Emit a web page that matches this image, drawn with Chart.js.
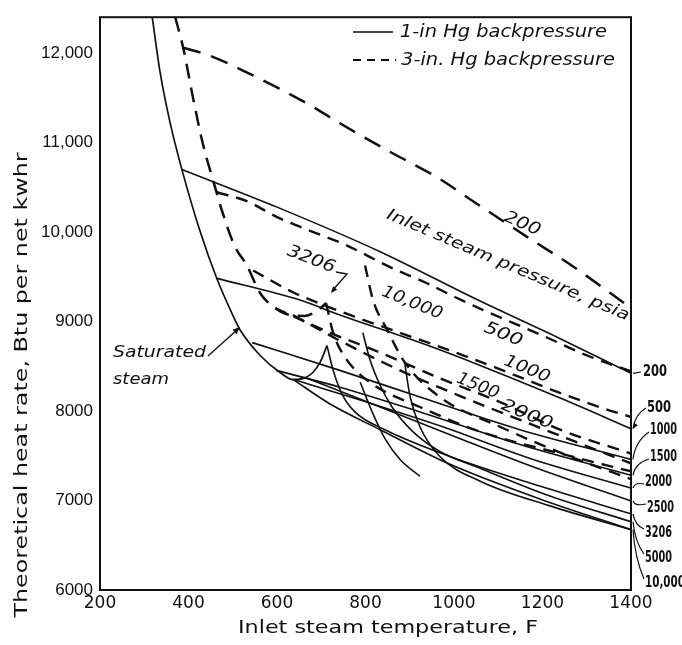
<!DOCTYPE html>
<html><head><meta charset="utf-8">
<script src="https://cdn.jsdelivr.net/npm/chart.js@4.4.1/dist/chart.umd.min.js"></script>
<style>html,body{margin:0;padding:0;background:#fff;}canvas{display:block;}</style>
</head><body>
<canvas id="c" width="682" height="645"></canvas>
<script>
// ---- tick values / labels ----
const xTicks = [200, 400, 600, 800, 1000, 1200, 1400];
const xTickLabels = ['200', '400', '600', '800', '1000', '1200', '1400'];
const yTicks = [6000, 7000, 8000, 9000, 10000, 11000, 12000];
const yTickLabels = ['6000', '7000', '8000', '9000', '10,000', '11,000', '12,000'];

// ---- saturated steam curves ----
const sat1T = [318, 336, 358, 385, 426, 464, 501, 516, 562, 607, 636, 663, 681, 697, 713];
const sat1H = [12400, 11780, 11230, 10700, 10010, 9480, 9060, 8910, 8620, 8430, 8350, 8370, 8430, 8540, 8730];
const sat3T = [370, 388, 410, 433, 455, 478, 505, 532, 562, 596, 629, 663, 693, 711];
const sat3H = [12400, 12058, 11505, 10974, 10587, 10201, 9836, 9626, 9316, 9150, 9073, 9062, 9128, 9206];

// ---- 1-in Hg backpressure (solid), inlet pressure psia ----
const s200T = [385, 600, 833, 1059, 1240, 1400];
const s200H = [10698, 10278, 9780, 9228, 8808, 8421];
const s500T = [464, 652, 742, 923, 1059, 1240, 1400];
const s500H = [9482, 9239, 9073, 8764, 8509, 8144, 7802];
const s1000T = [544, 742, 923, 1149, 1400];
const s1000H = [8764, 8454, 8156, 7791, 7459];
const s1500T = [598, 742, 923, 1149, 1400];
const s1500H = [8454, 8266, 7990, 7625, 7282];
const s2000T = [636, 788, 968, 1172, 1400];
const s2000H = [8354, 8122, 7835, 7470, 7139];
const s2500T = [668, 833, 1014, 1194, 1400];
const s2500H = [8366, 8045, 7691, 7349, 6995];
const s3206T = [713, 727, 747, 776, 844, 991, 1194, 1400];
const s3206H = [8730, 8454, 8189, 7990, 7791, 7492, 7161, 6851];
const s5000T = [794, 810, 833, 860, 907, 968, 1059, 1217, 1400];
const s5000H = [8874, 8576, 8288, 8045, 7769, 7548, 7360, 7050, 6763];
const s10000T = [889, 901, 923, 968, 1059, 1217, 1400];
const s10000H = [8520, 8156, 7824, 7492, 7216, 6940, 6674];
const envT = [636, 720, 833, 991, 1194, 1400];
const envH = [8354, 8078, 7791, 7404, 7017, 6674];
const crossT = [788, 815, 844, 878, 923];
const crossH = [8321, 7990, 7691, 7459, 7271];

// ---- 3-in Hg backpressure (dashed) ----
const d200T = [388, 449, 523, 600, 675, 749, 855, 962, 1043, 1165, 1269, 1400];
const d200H = [12058, 11969, 11803, 11615, 11416, 11195, 10897, 10610, 10344, 9946, 9615, 9150];
const d500T = [464, 532, 600, 675, 749, 862, 939, 998, 1066, 1133, 1201, 1301, 1400];
const d500H = [10444, 10344, 10167, 10013, 9869, 9593, 9427, 9283, 9128, 8985, 8841, 8620, 8443];
const d1000T = [546, 636, 765, 878, 991, 1093, 1235, 1341, 1400];
const d1000H = [9570, 9327, 9073, 8874, 8675, 8487, 8211, 8023, 7934];
const d1500T = [596, 720, 833, 968, 1104, 1240, 1400];
const d1500H = [9150, 8874, 8653, 8366, 8100, 7791, 7525];
const d2000T = [636, 742, 878, 1014, 1149, 1285, 1400];
const d2000H = [9073, 8786, 8454, 8167, 7901, 7636, 7415];
const d3206T = [711, 727, 754, 810, 923, 1059, 1240, 1400];
const d3206H = [9206, 8874, 8598, 8321, 8045, 7769, 7525, 7326];
const d10000T = [799, 817, 849, 889, 968, 1104, 1262, 1400];
const d10000H = [9626, 9239, 8907, 8542, 8156, 7824, 7492, 7238];

// ---- text ----
const legendSolid = '1-in Hg backpressure';
const legendDashed = '3-in. Hg backpressure';
const xTitle = 'Inlet steam temperature, F';
const yTitle = 'Theoretical heat rate, Btu per net kwhr';
const rightLabels = ['200', '500', '1000', '1500', '2000', '2500', '3206', '5000', '10,000'];
const rightEnds = [s200H, s500H, s1000H, s1500H, s2000H, s2500H, s3206H, s5000H, s10000H];

function pts(T, H) { return T.map((t, i) => ({ x: t, y: H[i] })); }
function solid(T, H, w) {
  return { data: pts(T, H), borderColor: '#111', borderWidth: w || 1.6, pointRadius: 0,
    showLine: true, fill: false, cubicInterpolationMode: 'monotone' };
}
function dashed(T, H, dash, w) {
  return { data: pts(T, H), borderColor: '#111', borderWidth: w || 2.4, borderDash: dash || [12, 8],
    pointRadius: 0, showLine: true, fill: false, cubicInterpolationMode: 'monotone' };
}

const datasets = [
  solid(sat1T, sat1H, 1.7),
  dashed(sat3T, sat3H, [15, 9], 2.5),
  solid(s200T, s200H), solid(s500T, s500H), solid(s1000T, s1000H), solid(s1500T, s1500H),
  solid(s2000T, s2000H), solid(s2500T, s2500H), solid(s3206T, s3206H), solid(s5000T, s5000H),
  solid(s10000T, s10000H), solid(envT, envH), solid(crossT, crossH),
  dashed(d200T, d200H, [18, 11], 2.5),
  dashed(d500T, d500H), dashed(d1000T, d1000H), dashed(d1500T, d1500H),
  dashed(d2000T, d2000H), dashed(d3206T, d3206H), dashed(d10000T, d10000H)
];

function fitText(ctx, str, x, y, targetW, align) {
  const w = ctx.measureText(str).width;
  const s = targetW / w;
  ctx.save();
  ctx.translate(x, y);
  ctx.scale(s, 1);
  ctx.textAlign = align || 'center';
  ctx.fillText(str, 0, 0);
  ctx.restore();
}
function arrowHead(ctx, x0, y0, x1, y1, size) {
  const a = Math.atan2(y1 - y0, x1 - x0);
  ctx.beginPath();
  ctx.moveTo(x1, y1);
  ctx.lineTo(x1 - size * Math.cos(a - 0.4), y1 - size * Math.sin(a - 0.4));
  ctx.lineTo(x1 - size * Math.cos(a + 0.4), y1 - size * Math.sin(a + 0.4));
  ctx.closePath();
  ctx.fill();
}

const decor = {
  id: 'decor',
  afterDraw(chart) {
    const { ctx, chartArea: a, scales: { x, y } } = chart;
    const X = v => x.getPixelForValue(v), Y = v => y.getPixelForValue(v);
    ctx.save();
    ctx.fillStyle = '#111';
    ctx.strokeStyle = '#111';
    // frame
    ctx.lineWidth = 2;
    ctx.strokeRect(a.left, a.top, a.right - a.left, a.bottom - a.top);

    // legend
    ctx.lineWidth = 1.6;
    ctx.beginPath(); ctx.moveTo(353, 32); ctx.lineTo(393, 32); ctx.stroke();
    ctx.lineWidth = 2.2;
    ctx.setLineDash([8, 6]);
    ctx.beginPath(); ctx.moveTo(353, 60); ctx.lineTo(396, 60); ctx.stroke();
    ctx.setLineDash([]);
    ctx.font = 'italic 17px "DejaVu Sans"';
    ctx.textBaseline = 'middle';
    fitText(ctx, legendSolid, 400, 33, 207, 'left');
    fitText(ctx, legendDashed, 401, 61, 214, 'left');

    // axis titles
    ctx.font = '18px "DejaVu Sans"';
    fitText(ctx, xTitle, 388, 628, 300, 'center');
    ctx.save();
    ctx.translate(22, 385);
    ctx.rotate(-Math.PI / 2);
    ctx.font = '18px "DejaVu Sans"';
    fitText(ctx, yTitle, 0, 0, 465, 'center');
    ctx.restore();

    // rotated in-plot labels
    const rot = (txt, T, H, deg, w, size) => {
      ctx.save();
      ctx.translate(X(T), Y(H));
      ctx.rotate(deg * Math.PI / 180);
      ctx.font = 'italic ' + size + 'px "DejaVu Sans"';
      fitText(ctx, txt, 0, 0, w, 'center');
      ctx.restore();
    };
    rot('Inlet steam pressure, psia', 1122, 9626, 23, 262, 16);
    rot('200', 1154, 10090, 24, 38, 17);
    rot('3206', 677, 9692, 21, 50, 17);
    rot('10,000', 905, 9206, 22, 64, 17);
    rot('500', 1111, 8852, 22, 40, 17);
    rot('1000', 1165, 8465, 22, 48, 17);
    rot('1500', 1054, 8277, 22, 44, 17);
    rot('2000', 1165, 7957, 22, 54, 17);

    // 3206 leader
    ctx.lineWidth = 1.4;
    ctx.beginPath(); ctx.moveTo(336, 272); ctx.lineTo(347, 274); ctx.lineTo(332, 291); ctx.stroke();
    arrowHead(ctx, 347, 274, 331, 293, 7);

    // saturated steam
    ctx.font = 'italic 16px "DejaVu Sans"';
    fitText(ctx, 'Saturated', 113, 353, 93, 'left');
    fitText(ctx, 'steam', 113, 380, 56, 'left');
    ctx.beginPath(); ctx.moveTo(208, 356); ctx.lineTo(238, 329); ctx.stroke();
    arrowHead(ctx, 208, 356, 240, 327, 8);

    // right-hand labels with leaders
    const labY = [372, 408, 430, 457, 482, 508, 533, 558, 583];
    const labX = [643, 647, 650, 650, 645, 647, 645, 645, 645];
    ctx.font = 'bold 16px "DejaVu Sans"';
    ctx.lineWidth = 1.2;
    rightLabels.forEach((t, i) => {
      const ex = a.right + 2, ey = Y(rightEnds[i][rightEnds[i].length - 1]);
      const w = t.length === 6 ? 40 : (t.length === 4 ? 27 : 24);
      fitText(ctx, t, labX[i], labY[i], w, 'left');
      ctx.beginPath();
      if (i === 0) { ctx.moveTo(ex, ey); ctx.lineTo(labX[i] - 2, labY[i]); }
      else {
        const sx = labX[i] - 1, sy = labY[i] + (i === 1 ? 0 : (ey < labY[i] ? -4 : 2));
        ctx.moveTo(sx, sy);
        ctx.quadraticCurveTo(ex + 2, (sy + ey) / 2 + (ey < sy ? 4 : -4), ex, ey);
      }
      ctx.stroke();
      if (i === 1) arrowHead(ctx, labX[i] - 1, labY[i], ex, ey, 6);
    });
    ctx.restore();
  }
};

new Chart(document.getElementById('c'), {
  type: 'scatter',
  data: { datasets },
  options: {
    responsive: false,
    animation: false,
    events: [],
    layout: { padding: { top: 11, right: 51, left: 0, bottom: 0 } },
    plugins: { legend: { display: false }, tooltip: { enabled: false } },
    scales: {
      x: {
        type: 'linear', min: 200, max: 1400,
        grid: { display: false, drawTicks: false }, border: { display: false },
        afterBuildTicks: s => { s.ticks = xTicks.map(v => ({ value: v })); },
        afterFit: s => { s.height = 55; },
        ticks: { color: '#111', padding: 3, font: { family: 'DejaVu Sans', size: 17 }, maxRotation: 0, autoSkip: false,
          callback: v => xTickLabels[xTicks.indexOf(v)] }
      },
      y: {
        type: 'linear', min: 6000, max: 12400,
        grid: { display: false, drawTicks: false }, border: { display: false },
        afterBuildTicks: s => { s.ticks = yTicks.map(v => ({ value: v })); },
        afterFit: s => { s.width = 100; },
        ticks: { color: '#111', padding: 7, font: { family: '"Liberation Sans Narrow", "Liberation Sans"', size: 17 }, autoSkip: false,
          callback: v => yTickLabels[yTicks.indexOf(v)] }
      }
    }
  },
  plugins: [decor]
});
</script>
</body></html>
